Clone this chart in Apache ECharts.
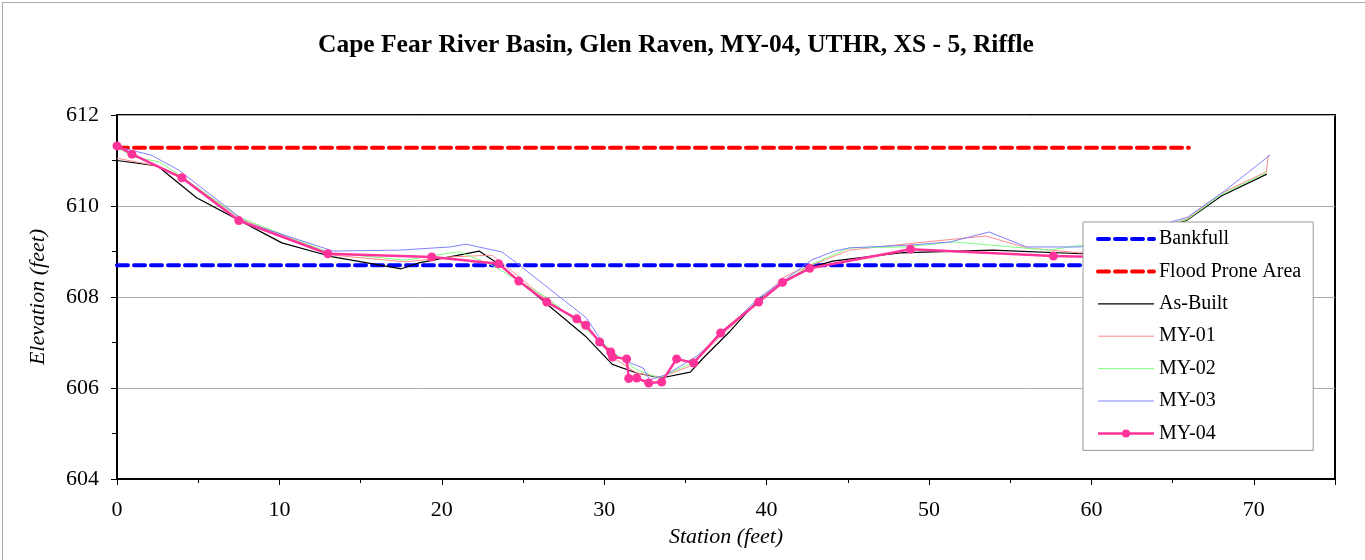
<!DOCTYPE html>
<html>
<head>
<meta charset="utf-8">
<script src="https://cdn.jsdelivr.net/npm/echarts@6/dist/echarts.min.js"></script>
<style>
  html, body { margin: 0; padding: 0; background: #fff; }
  #frame { position: absolute; left: 2px; top: 2px; width: 1363px; height: 558px; border-left: 1px solid #aaa; border-top: 1px solid #aaa; }
  #chart { position: absolute; left: 0; top: 0; width: 1365px; height: 560px; }
</style>
</head>
<body>
<div id="frame"></div>
<div id="chart"></div>
<script>
// ---- data ----
const titleText = 'Cape Fear River Basin, Glen Raven, MY-04, UTHR, XS - 5, Riffle';
const seriesNames = ['Bankfull', 'Flood Prone Area', 'As-Built', 'MY-01', 'MY-02', 'MY-03', 'MY-04'];

const bankfull = [[0, 608.7], [66, 608.7]];
const floodProne = [[0, 611.28], [66, 611.28]];

const asBuilt = [[0,611.0],[2.5,610.88],[4.9,610.18],[10.15,609.19],[13.3,608.88],[17.5,608.62],[18.6,608.75],[22.3,609.01],[23.6,608.70],[28.9,607.12],[30.5,606.52],[32.0,606.33],[33.5,606.22],[35.3,606.35],[36.1,606.66],[37.7,607.23],[39.45,607.93],[41.2,608.35],[42.65,608.64],[44.06,608.79],[48.2,608.97],[53.9,609.03],[59.4,608.95],[65.9,609.69],[68.0,610.22],[70.8,610.70]];

const my01 = [[0,611.05],[2.2,610.90],[4.0,610.64],[7.6,609.72],[13.3,608.92],[17.8,608.77],[20.5,608.88],[23.1,608.92],[24.0,608.66],[26.5,607.93],[28.9,607.34],[30.5,606.68],[32.0,606.33],[33.5,606.24],[35.3,606.48],[37.2,607.15],[39.5,607.90],[41.0,608.42],[41.6,608.53],[45.1,609.03],[49.2,609.19],[53.5,609.34],[56.0,609.08],[59.3,608.97],[65.9,609.72],[68.0,610.28],[70.77,610.75],[70.9,611.12]];

const my02 = [[0,611.3],[1.0,611.08],[2.6,610.97],[4.0,610.64],[7.6,609.74],[13.1,608.97],[17.8,608.81],[20.5,608.97],[21.1,608.99],[23.1,608.70],[26.5,607.98],[29.7,607.05],[31.0,606.66],[32.0,606.40],[33.4,606.22],[35.4,606.55],[37.1,607.20],[39.5,607.92],[41.2,608.38],[42.8,608.72],[45.1,609.08],[48.5,609.10],[51.5,609.21],[57.4,609.03],[59.4,609.14],[65.9,609.70],[68.0,610.25],[70.8,610.73]];

const my03 = [[0,611.3],[2.1,611.12],[3.8,610.79],[8.0,609.63],[13.3,609.01],[17.4,609.03],[20.5,609.10],[21.5,609.16],[23.7,608.99],[24.6,608.75],[28.9,607.54],[30.3,606.79],[31.6,606.55],[32.4,606.44],[32.8,606.18],[33.8,606.29],[35.7,606.70],[37.5,607.27],[39.5,607.98],[41.2,608.40],[42.8,608.82],[44.2,609.01],[45.1,609.08],[48.8,609.14],[51.3,609.21],[53.7,609.43],[56.0,609.10],[59.3,609.10],[65.9,609.75],[68.2,610.33],[71.0,611.12]];

const my04 = [[0,611.32],[0.92,611.14],[4.0,610.62],[7.5,609.68],[12.98,608.95],[19.38,608.88],[23.5,608.73],[24.74,608.35],[26.46,607.89],[28.31,607.52],[28.86,607.38],[29.72,607.01],[30.40,606.79],[30.52,606.68],[31.38,606.64],[31.51,606.21],[32.0,606.22],[32.74,606.11],[33.54,606.13],[34.46,606.64],[35.51,606.55],[37.17,607.21],[39.51,607.89],[40.98,608.32],[42.65,608.63],[48.86,609.05],[57.66,608.90],[60.5,608.88]];

// ---- chart ----
const serif = '"Liberation Serif", "Times New Roman", serif';
const chart = echarts.init(document.getElementById('chart'), null, { renderer: 'canvas' });

function thinLine(name, data, color, width) {
  return {
    name: name, type: 'line', data: data, symbol: 'none', showSymbol: false,
    lineStyle: { color: color, width: width }, itemStyle: { color: color },
    emphasis: { disabled: true }, z: 3
  };
}
function dashLine(name, data, color) {
  return {
    name: name, type: 'line', data: data, symbol: 'none', showSymbol: false,
    lineStyle: { color: color, width: 4, type: [11, 6], cap: 'round' }, itemStyle: { color: color },
    emphasis: { disabled: true }, z: 2
  };
}
const legendWidths = { 'Bankfull': 4, 'Flood Prone Area': 4, 'As-Built': 1.2, 'MY-01': 1, 'MY-02': 1, 'MY-03': 1, 'MY-04': 2.5 };
const legendData = seriesNames.map(n => n === 'MY-04'
  ? { name: n, lineStyle: { width: legendWidths[n] } }
  : { name: n, itemStyle: { opacity: 0 }, lineStyle: { width: legendWidths[n] } });

chart.setOption({
  animation: false,
  backgroundColor: 'transparent',
  title: {
    text: titleText, left: 313, top: 27,
    textStyle: { fontFamily: serif, fontSize: 25.5, fontWeight: 'bold', color: '#000' }
  },
  grid: { left: 117, right: 30, top: 115, bottom: 81, show: true, borderColor: '#000', borderWidth: 2, backgroundColor: 'transparent' },
  legend: {
    orient: 'vertical', left: 1083, top: 222,
    data: legendData,
    itemWidth: 56, itemHeight: 10, itemGap: 12.4,
    padding: [7, 12, 7, 13],
    backgroundColor: '#fff', borderColor: '#999', borderWidth: 1, borderRadius: 0,
    textStyle: { fontFamily: serif, fontSize: 20, color: '#000', lineHeight: 20 },
    selectedMode: false, z: 10
  },
  xAxis: {
    type: 'value', min: 0, max: 75, interval: 10,
    name: 'Station (feet)', nameLocation: 'middle', nameGap: 42,
    nameTextStyle: { fontFamily: serif, fontSize: 22, fontStyle: 'italic', color: '#000' },
    axisLine: { show: true, lineStyle: { color: '#000', width: 2 } },
    axisTick: { show: true, inside: false, length: 6, lineStyle: { color: '#000' } },
    minorTick: { show: true, splitNumber: 2, length: 4, lineStyle: { color: '#000' } },
    axisLabel: { fontFamily: serif, fontSize: 22, color: '#000', margin: 20, showMaxLabel: false },
    splitLine: { show: false }
  },
  yAxis: {
    type: 'value', min: 604, max: 612, interval: 2,
    name: 'Elevation (feet)', nameLocation: 'middle', nameGap: 68, nameRotate: 90,
    nameTextStyle: { fontFamily: serif, fontSize: 22, fontStyle: 'italic', color: '#000' },
    axisLine: { show: true, lineStyle: { color: '#000', width: 2 } },
    axisTick: { show: true, inside: false, length: 6, lineStyle: { color: '#000' } },
    minorTick: { show: true, splitNumber: 2, length: 5, lineStyle: { color: '#000' } },
    axisLabel: { fontFamily: serif, fontSize: 22, color: '#000', margin: 18 },
    splitLine: { show: true, lineStyle: { color: '#aaa', width: 1 } }
  },
  series: [
    dashLine('Bankfull', bankfull, '#0000ff'),
    dashLine('Flood Prone Area', floodProne, '#ff0000'),
    thinLine('As-Built', asBuilt, '#000000', 1.2),
    thinLine('MY-01', my01, '#ff8c8c', 1),
    thinLine('MY-02', my02, '#80ff80', 1),
    thinLine('MY-03', my03, '#8080ff', 1),
    {
      name: 'MY-04', type: 'line', data: my04, symbol: 'circle', symbolSize: 9, showSymbol: true,
      lineStyle: { color: '#ff3399', width: 2.5 }, itemStyle: { color: '#ff3399' },
      emphasis: { disabled: true }, z: 4
    }
  ]
});
</script>
</body>
</html>
